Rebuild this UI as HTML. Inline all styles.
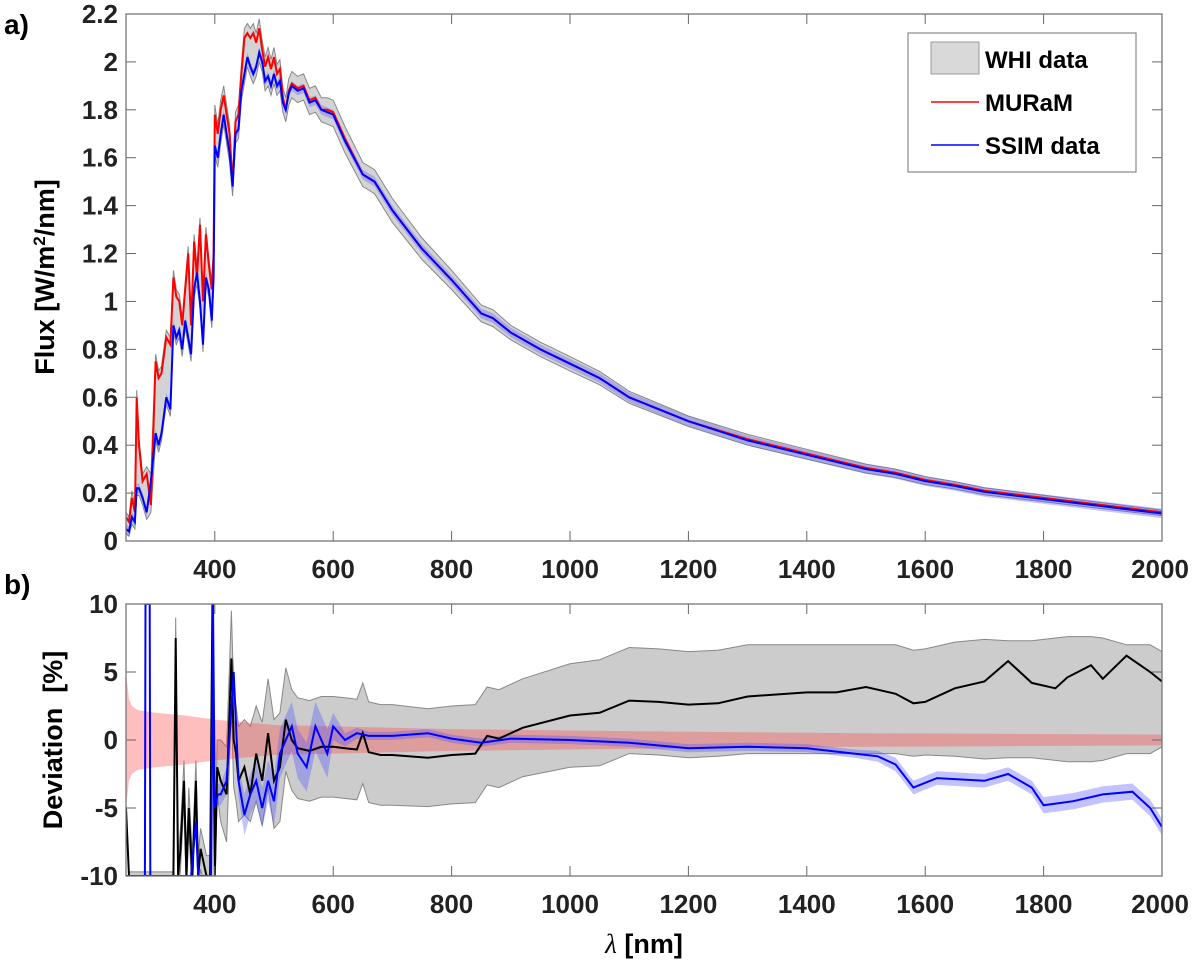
<!DOCTYPE html>
<html><head><meta charset="utf-8"><style>
body{margin:0;background:#fff;}
svg{display:block;font-family:"Liberation Sans",Arial,sans-serif;font-weight:bold;}
</style></head><body>
<svg id="chart" width="1200" height="965" viewBox="0 0 1200 965" xmlns="http://www.w3.org/2000/svg">
<defs>
<clipPath id="clipA"><rect x="126" y="14" width="1036" height="527"/></clipPath>
<clipPath id="clipB"><rect x="126" y="604" width="1036" height="272"/></clipPath>
</defs>
<g id="panelA"></g>
<g id="panelB"></g>
<text x="4" y="34" font-size="28">a)</text>
<text x="4" y="594" font-size="28">b)</text>
<text transform="translate(54,277) rotate(-90)" text-anchor="middle" font-size="27">Flux [W/m<tspan baseline-shift="super" font-size="17">2</tspan>/nm]</text>
<text transform="translate(62,740) rotate(-90)" text-anchor="middle" font-size="27" xml:space="preserve">Deviation  [%]</text>
<text x="644" y="953" text-anchor="middle" font-size="27"><tspan font-family="'Liberation Serif',serif" font-weight="normal" font-style="italic">λ</tspan> [nm]</text>
<g>
<rect x="908" y="33" width="228" height="139" fill="#fff" stroke="#888" stroke-width="1.2"/>
<rect x="931" y="42" width="48" height="32" fill="#d9d9d9" stroke="#999"/>
<text x="985" y="68" font-size="24">WHI data</text>
<line x1="931" y1="102" x2="979" y2="102" stroke="#f00" stroke-width="1.5"/>
<text x="985" y="111" font-size="24">MURaM</text>
<line x1="931" y1="145" x2="979" y2="145" stroke="#00f" stroke-width="1.5"/>
<text x="985" y="154" font-size="24">SSIM data</text>
</g>
</svg>
<script>
// ---- panel a data ----
const wlA   = [250,255,260,265,268,272,278,285,292,300,305,310,318,325,330,335,340,345,350,355,360,365,370,375,380,385,390,395,398,400,405,410,415,420,425,430,435,440,445,450,455,460,465,470,475,480,485,490,495,500,505,510,515,520,525,530,540,550,560,570,580,590,600,620,650,670,700,750,800,850,870,900,950,1000,1050,1100,1200,1300,1400,1500,1550,1600,1650,1700,1800,1900,2000];
const muram = [0.10,0.08,0.18,0.12,0.60,0.40,0.25,0.28,0.15,0.75,0.68,0.70,0.85,0.82,1.10,1.02,1.00,0.90,1.05,1.20,0.90,1.25,1.10,1.32,1.00,1.28,1.15,1.05,1.20,1.78,1.70,1.80,1.86,1.78,1.70,1.48,1.75,1.78,1.95,2.10,2.12,2.10,2.12,2.08,2.14,2.05,1.98,2.02,1.97,2.02,1.95,1.97,1.85,1.80,1.88,1.91,1.89,1.90,1.84,1.85,1.80,1.80,1.79,1.68,1.53,1.50,1.38,1.22,1.09,0.95,0.93,0.87,0.80,0.74,0.68,0.60,0.50,0.425,0.365,0.305,0.285,0.255,0.235,0.21,0.18,0.15,0.12];
const ssim  = [0.05,0.04,0.10,0.08,0.22,0.22,0.18,0.12,0.25,0.45,0.40,0.45,0.60,0.55,0.90,0.85,0.88,0.80,0.92,0.85,0.78,1.05,1.12,1.00,0.82,1.10,1.05,0.92,1.10,1.65,1.60,1.70,1.78,1.70,1.62,1.48,1.70,1.72,1.88,1.95,2.02,1.98,1.95,1.98,2.04,2.00,1.92,1.94,1.90,1.95,1.90,1.92,1.83,1.80,1.87,1.90,1.88,1.89,1.83,1.84,1.80,1.79,1.78,1.67,1.53,1.50,1.38,1.22,1.09,0.95,0.93,0.87,0.80,0.74,0.68,0.60,0.50,0.42,0.36,0.30,0.28,0.25,0.23,0.205,0.175,0.145,0.115];
const whiErr= [0.02,0.02,0.03,0.03,0.03,0.03,0.03,0.03,0.03,0.03,0.03,0.03,0.03,0.03,0.03,0.03,0.03,0.03,0.03,0.03,0.03,0.03,0.03,0.03,0.03,0.03,0.03,0.03,0.03,0.04,0.04,0.04,0.04,0.04,0.04,0.04,0.04,0.04,0.04,0.04,0.04,0.04,0.04,0.04,0.04,0.04,0.04,0.04,0.04,0.04,0.04,0.04,0.04,0.05,0.05,0.05,0.05,0.05,0.05,0.05,0.05,0.05,0.05,0.05,0.05,0.05,0.05,0.045,0.04,0.035,0.035,0.03,0.03,0.03,0.028,0.025,0.022,0.02,0.018,0.016,0.015,0.014,0.013,0.012,0.011,0.01,0.009];
const yTicksA = [0,0.2,0.4,0.6,0.8,1,1.2,1.4,1.6,1.8,2,2.2];
const xTicks = [400,600,800,1000,1200,1400,1600,1800,2000];
// ---- panel b data ----
const wlK   = [250,255,262,330,334,338,342,348,352,356,362,368,372,376,386,392,396,400,404,410,420,428,432,436,440,450,460,470,480,490,500,510,520,530,540,560,580,600,620,640,650,660,680,700,760,800,840,860,880,920,1000,1050,1100,1150,1200,1250,1300,1400,1450,1500,1550,1580,1600,1650,1700,1740,1780,1820,1840,1880,1900,1940,1980,2000];
const devK  = [-5,-10,-10,-10,7.5,-10,-8,-3,-10,-5,-10,-3,-10,-8,-10,-10,10,-10,-2,-3,-4,6,0,-1,-3,-2,-4,-1,-3,0.5,-3,-2,1.5,0,-0.6,-0.8,-0.5,-0.5,-0.6,-0.7,0.5,-0.9,-1.1,-1.1,-1.3,-1.1,-1.0,0.3,0.1,0.9,1.8,2.0,2.9,2.8,2.6,2.7,3.2,3.5,3.5,3.9,3.4,2.7,2.8,3.8,4.3,5.8,4.2,3.8,4.6,5.5,4.5,6.2,5.0,4.3];
const errK  = [0.3,0.3,0.3,0.3,1.5,1.5,1.5,1.5,1.5,1.5,1.5,1.5,1.5,1.5,1.5,1.5,1.5,1.5,2,3,3.5,3.5,3.5,3.5,3.5,3.5,3.5,3.5,3.8,4,4,4,3.8,3.7,3.7,3.7,3.7,3.7,3.7,3.7,3.7,3.7,3.7,3.7,3.6,3.6,3.6,3.6,3.6,3.6,3.8,3.9,3.9,3.9,3.9,3.9,4,4,4,4,4,3.9,3.9,4.2,4.4,4.3,4.3,4.5,4.6,4.6,4.5,4,4,3.5];
const wlS   = [250,282,283,290,291,360,368,372,380,394,397,400,405,410,420,432,440,450,460,470,480,490,500,510,520,530,540,555,570,590,600,620,640,660,700,760,800,850,900,1000,1100,1200,1300,1400,1480,1520,1550,1580,1620,1700,1740,1780,1800,1850,1900,1950,1980,2000];
const devS  = [-10,-10,10,10,-10,-10,-6,-10,-10,-10,10,-5,-4,-4,-3,5,-3,-5.5,-4,-3,-5,-3,-4.5,-1,0,1,-1,-2,1,-1,1,0,0.5,0.3,0.3,0.5,0.1,-0.2,0.1,0.0,-0.2,-0.6,-0.5,-0.6,-1.0,-1.2,-1.8,-3.5,-2.8,-3.0,-2.5,-3.5,-4.8,-4.5,-4.0,-3.8,-5.0,-6.4];
const errS  = [0,0,0,0,0,0,0,0,0,0,0,0.8,0.8,0.8,1,1,1.2,1.5,1.5,1.5,1.5,1.5,1.8,1.8,1.8,1.8,1.8,1.8,1.8,1.8,1.0,0.5,0.4,0.3,0.3,0.3,0.3,0.3,0.3,0.3,0.3,0.3,0.3,0.3,0.3,0.4,0.5,0.5,0.5,0.5,0.5,0.5,0.6,0.6,0.6,0.6,0.6,0.6];
const wlR   = [250,255,260,270,300,350,400,450,500,600,800,1000,1200,1500,2000];
const errR  = [5,3,2.5,2.2,2.0,1.8,1.5,1.3,1.1,1.0,0.8,0.7,0.6,0.5,0.4];
const yTicksB = [-10,-5,0,5,10];

const NS="http://www.w3.org/2000/svg";
const L=126,R=1162;
const xS=w=>L+(w-250)/(2000-250)*(R-L);
const yA=v=>541-v/2.2*527;
const yB=v=>740-v/20*272;
function mk(tag,attrs,parent){const e=document.createElementNS(NS,tag);for(const k in attrs)e.setAttribute(k,attrs[k]);parent.appendChild(e);return e;}
function line(xs,ys,fx,fy){return xs.map((x,i)=>(i?'L':'M')+fx(x).toFixed(1)+','+fy(ys[i]).toFixed(1)).join('');}
function band(xs,c,e,fx,fy){const up=xs.map((x,i)=>fx(x).toFixed(1)+','+fy(c[i]+e[i]).toFixed(1));const lo=xs.map((x,i)=>fx(x).toFixed(1)+','+fy(c[i]-e[i]).toFixed(1)).reverse();return 'M'+up.join('L')+'L'+lo.join('L')+'Z';}
function axes(g,top,bot,yt,yf,fmt,pref){
  for(const t of xTicks){
    const x=xS(t);
    const tk=mk('line',{x1:x,x2:x,y1:bot,y2:bot-10,stroke:'#666'},g);
    
    
    const tk2=mk('line',{x1:x,x2:x,y1:top,y2:top+10,stroke:'#666'},g);
    
    
    const tx=mk('text',{x:t===2000?x-2:x,y:bot+37,'text-anchor':'middle','font-size':'26',fill:'#222'},g);
    tx.textContent=t;
    
    
  }
  for(const t of yt){
    const y=yf(t);
    const tk=mk('line',{x1:L,x2:L+10,y1:y,y2:y,stroke:'#666'},g);
    
    
    const tk2=mk('line',{x1:R,x2:R-10,y1:y,y2:y,stroke:'#666'},g);
    
    
    const tx=mk('text',{x:L-8,y:y+9,'text-anchor':'end','font-size':'26',fill:'#222'},g);
    tx.textContent=fmt(t);
    
    
  }
  const fr=mk('rect',{x:L,y:top,width:R-L,height:bot-top,fill:'none',stroke:'#777','stroke-width':'1.3'},g);
  
  
}
// panel a
const gA=document.getElementById('panelA');
const cA=mk('g',{'clip-path':'url(#clipA)'},gA);
const whiMid=muram.map((v,i)=>(v+ssim[i])/2);
const p1=mk('path',{d:band(wlA,whiMid,whiErr.map((e,i)=>e+Math.abs(muram[i]-ssim[i])/2),xS,yA),fill:'#d3d3d3',stroke:'#888','stroke-width':'1'},cA);


const p1b=mk('path',{d:band(wlA,ssim,ssim.map(()=>0.02),xS,yA),fill:'rgba(90,90,255,0.35)',stroke:'none'},cA);


const p2=mk('path',{d:line(wlA,muram,xS,yA),fill:'none',stroke:'#f00','stroke-width':'2'},cA);


const p3=mk('path',{d:line(wlA,ssim,xS,yA),fill:'none',stroke:'#00f','stroke-width':'2'},cA);


axes(gA,14,541,yTicksA,yA,t=>String(t),'flux');
// panel b
const gB=document.getElementById('panelB');
const cB=mk('g',{'clip-path':'url(#clipB)'},gB);
const q1=mk('path',{d:band(wlK,devK.map((v,i)=>wlK[i]>=440?Math.max(-2.5,Math.min(3,v)):v),errK,xS,yB),fill:'#cccccc',stroke:'#888','stroke-width':'1'},cB);


const q2=mk('path',{d:band(wlR,wlR.map(()=>0),errR,xS,yB),fill:'rgba(255,70,70,0.35)',stroke:'none'},cB);


const q3=mk('path',{d:band(wlS,devS,errS,xS,yB),fill:'rgba(80,80,255,0.35)',stroke:'none'},cB);


const q4=mk('path',{d:line(wlK,devK,xS,yB),fill:'none',stroke:'#000','stroke-width':'2'},cB);


const q5=mk('path',{d:line(wlS,devS,xS,yB),fill:'none',stroke:'#00f','stroke-width':'2'},cB);


axes(gB,604,876,yTicksB,yB,t=>String(t),'deviation');
</script>
</body></html>
